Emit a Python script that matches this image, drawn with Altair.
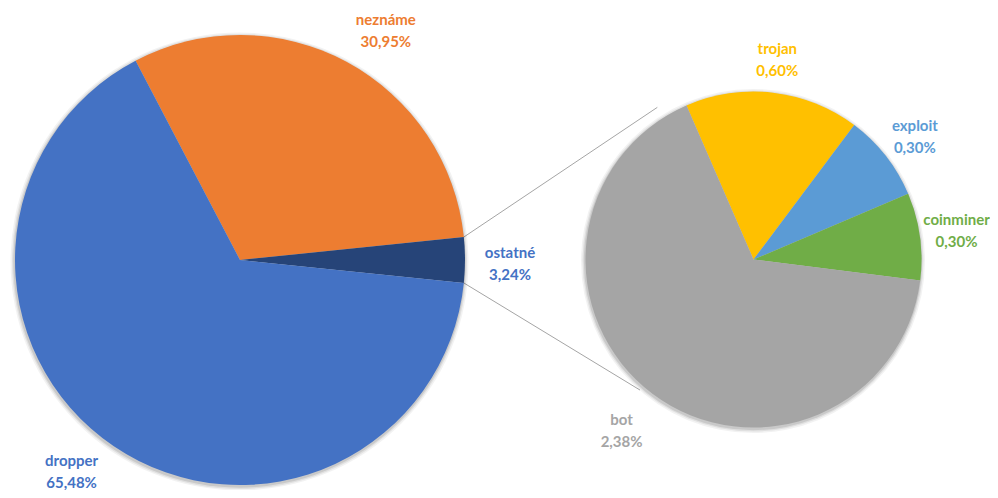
import math
import altair as alt
import pandas as pd

# ---- data ----
main_cats = ["neznáme", "ostatné", "dropper"]
main_vals = [30.95, 3.24, 65.48]
sub_cats = ["trojan", "exploit", "coinminer", "bot"]
sub_vals = [0.60, 0.30, 0.30, 2.38]

all_cats = ["dropper", "neznáme", "ostatné", "bot", "trojan", "exploit", "coinminer"]
slice_colors = ["#4472C4", "#ED7D31", "#264478", "#A5A5A5", "#FFC000", "#5B9BD5", "#70AD47"]
label_colors = ["#4472C4", "#ED7D31", "#4472C4", "#A5A5A5", "#FFC000", "#5B9BD5", "#70AD47"]


def fmt(v):
    return f"{v:.2f}".replace(".", ",") + "%"


main_df = pd.DataFrame({
    "cat": main_cats, "value": main_vals, "idx": range(len(main_cats)),
    "label": [f"{c}\n{fmt(v)}" for c, v in zip(main_cats, main_vals)],
})
sub_df = pd.DataFrame({
    "cat": sub_cats, "value": sub_vals, "idx": range(len(sub_cats)),
    "label": [f"{c}\n{fmt(v)}" for c, v in zip(sub_cats, sub_vals)],
})

# ---- geometry ----
W, H = 982, 482
C1 = (232, 252)
R1 = 225
C2 = (745.5, 251.5)
R2 = 168

tot1 = sum(main_vals)
start1 = 90 - (main_vals[0] + main_vals[1] / 2) / tot1 * 360
start2 = -23.5

r1 = [math.radians(start1), math.radians(start1) + 2 * math.pi]
r2 = [math.radians(start2), math.radians(start2) + 2 * math.pi]

fill_scale = alt.Scale(domain=all_cats, range=slice_colors)
text_scale = alt.Scale(domain=all_cats, range=label_colors)

dummy = pd.DataFrame({"k": [0]})


def shadow(center, radius):
    layers = []
    for extra, op in [(4, 0.05), (2.5, 0.07), (1.2, 0.1)]:
        layers.append(
            alt.Chart(dummy).mark_arc(
                radius=radius + extra, theta=0, theta2=2 * math.pi,
                color="#000000", opacity=op,
            ).encode(x=alt.value(center[0] - 0.5), y=alt.value(center[1] + 1.5))
        )
    return layers


def pie(df, center, radius, label_r, rng, adjust):
    base = alt.Chart(df).encode(
        theta=alt.Theta("value:Q", stack=True, scale=alt.Scale(range=rng)),
        order=alt.Order("idx:Q"),
        x=alt.value(center[0]),
        y=alt.value(center[1]),
    )
    arcs = base.mark_arc(radius=radius).encode(
        fill=alt.Fill("cat:N", scale=fill_scale, legend=None)
    )
    layers = [arcs]
    special = list(adjust.keys())
    cond = " && ".join([f"datum.cat != '{s}'" for s in special]) or "true"
    groups = [(cond, (0, -7))] + [(f"datum.cat == '{s}'", adjust[s]) for s in special]
    for test, (ddx, ddy) in groups:
        layers.append(
            base.mark_text(
                radius=label_r, lineBreak="\n", font="Lato", fontWeight="bold",
                fontSize=15, lineHeight=22, align="center", baseline="middle",
                dx=ddx, dy=ddy,
            ).encode(
                text=alt.condition(test, alt.Text("label:N"), alt.value("")),
                color=alt.Color("cat:N", scale=text_scale, legend=None),
            )
        )
    return shadow(center, radius) + layers


# connector lines
a_top = math.radians(start1 + main_vals[0] / tot1 * 360)
a_bot = math.radians(start1 + (main_vals[0] + main_vals[1]) / tot1 * 360)


def pt(c, r, a):
    return c[0] + r * math.sin(a), c[1] - r * math.cos(a)


p1 = pt(C1, R1, a_top)
q1 = pt(C2, 180, math.radians(-32.3))
p2 = pt(C1, R1, a_bot)
q2 = pt(C2, 173, math.radians(221))


def connector(p, q):
    return alt.Chart(dummy).mark_rule(color="#A5A5A5", strokeWidth=1).encode(
        x=alt.value(p[0]), y=alt.value(p[1]), x2=alt.value(q[0]), y2=alt.value(q[1])
    )


main_layers = pie(main_df, C1, R1, 270, r1,
                  {"neznáme": (18, -2), "dropper": (-17, -23)})
sub_layers = pie(sub_df, C2, R2, 205, r2,
                 {"bot": (-9, -4), "coinminer": (0, -11)})

chart = alt.layer(
    connector(p1, q1),
    connector(p2, q2),
    alt.layer(*main_layers),
    alt.layer(*sub_layers),
).resolve_scale(theta="independent").properties(
    width=W, height=H, padding=0,
    autosize=alt.AutoSizeParams(type="none"),
).configure_view(stroke=None)

chart.save("out.html", embed_options={"renderer": "svg", "actions": False})
